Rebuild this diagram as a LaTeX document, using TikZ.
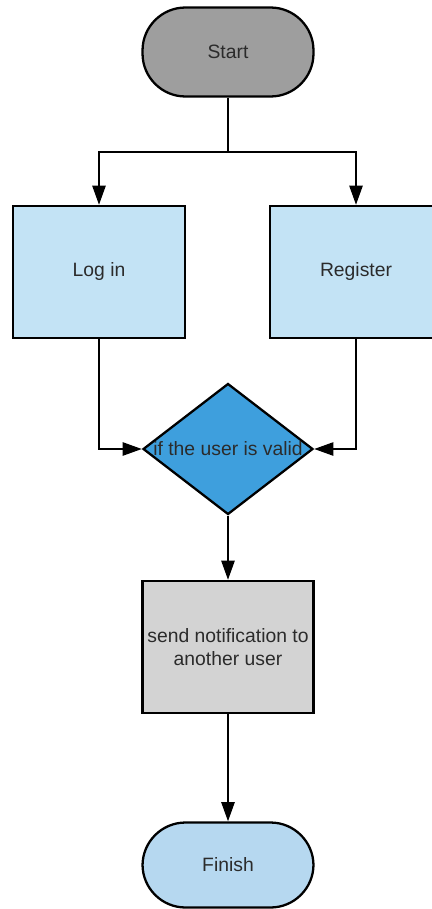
\documentclass[tikz,border=0pt]{standalone}
\usepackage{fontspec}
\setmainfont{Liberation Sans}
\usepackage{xcolor}
\usepackage{tikz}
\usetikzlibrary{arrows.meta,shapes.geometric}

\definecolor{startgray}{HTML}{9E9E9E}
\definecolor{boxblue}{HTML}{C3E3F5}
\definecolor{checkblue}{HTML}{3E9FDD}
\definecolor{notegray}{HTML}{D3D3D3}
\definecolor{endblue}{HTML}{B6D8F0}
\definecolor{textdark}{HTML}{2B2B2B}

\begin{document}
\begin{tikzpicture}[x=0.02cm, y=-0.02cm,
        every node/.style={text=textdark, font=\fontsize{11}{13.5}\selectfont},
        pill/.style={draw, line width=1.3pt, rounded corners=0.86cm, minimum width=3.42cm},
        stepbox/.style={draw, line width=1.3pt, minimum width=3.44cm, minimum height=2.64cm},
        flow/.style={line width=1.3pt, -{Triangle[length=11pt,width=7.5pt]}}]
        \useasboundingbox (0,0) rectangle (432,909);
        \clip (0,0) rectangle (432,909);
        % start and finish
        \node[pill, fill=startgray, minimum height=1.78cm] (start) at (228,52) {Start};
        \node[pill, fill=endblue, minimum height=1.7cm] (finish) at (228,865) {Finish};
        % the two entry boxes
        \node[stepbox, fill=boxblue] (login) at (99,272) {Log in};
        \node[stepbox, fill=boxblue] (register) at (356,272) {Register};
        % decision
        \node[diamond, draw, line width=1.3pt, fill=checkblue, aspect=1.3, inner sep=0pt,
              minimum width=3.4cm, minimum height=2.62cm] (check) at (228,449) {if the user is valid};
        \node[stepbox, fill=notegray, minimum width=3.42cm, inner xsep=1pt, align=center] (notify) at (228,647)
              {send notification to\\another user};
        \coordinate (split) at (228,152);
        % connectors
        \draw[line width=1.3pt] (start) -- (split);
        \draw[flow] (split) -| (login);
        \draw[flow] (split) -| (register);
        \draw[flow] (login) |- (check);
        \draw[flow] (register) |- (check);
        \draw[flow] (check) -- (notify);
        \draw[flow] (notify) -- (finish);
    \end{tikzpicture}
\end{document}
